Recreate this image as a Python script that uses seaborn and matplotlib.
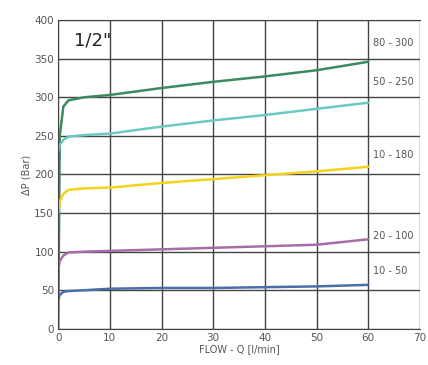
import numpy as np
import pandas as pd
import matplotlib
matplotlib.use("Agg")
import matplotlib.pyplot as plt
import seaborn as sns

flow = [0, 0.3, 1, 2, 5, 10, 20, 30, 40, 50, 60]
dp_80_300 = [0, 250, 288, 296, 300, 303, 312, 320, 327, 335, 346]
dp_50_250 = [230, 238, 245, 249, 251, 253, 262, 270, 277, 285, 293]
dp_10_180 = [150, 165, 175, 180, 182, 183, 189, 194, 199, 204, 210]
dp_20_100 = [75, 88, 95, 99, 100, 101, 103, 105, 107, 109, 116]
dp_10_50 = [38, 44, 48, 49, 50, 52, 53, 53, 54, 55, 57]

ranges = ["80 - 300", "50 - 250", "10 - 180", "20 - 100", "10 - 50"]
label_y = [370, 320, 225, 120, 75]
colors = ["#3d8a5f", "#6cc9c2", "#f3d21c", "#a66ea6", "#4a6ea8"]

series = [dp_80_300, dp_50_250, dp_10_180, dp_20_100, dp_10_50]
df = pd.concat([pd.DataFrame({"flow": flow, "dp": s, "range": r})
                for s, r in zip(series, ranges)])

sns.set_style("white")
fig = plt.figure(figsize=(4.28, 3.65), dpi=100)
ax = fig.add_axes([0.136, 0.099, 0.845, 0.846])

sns.lineplot(data=df, x="flow", y="dp", hue="range", palette=colors,
             hue_order=ranges, linewidth=1.8, legend=False, ax=ax, sort=False)

for r, y in zip(ranges, label_y):
    ax.text(61, y, r, fontsize=7, color="#555555", va="center", ha="left")

ax.text(3, 374, '1/2"', fontsize=13, color="#222222", va="center")

ax.set_xlim(0, 70)
ax.set_ylim(0, 400)
ax.set_xticks(range(0, 71, 10))
ax.set_yticks(range(0, 401, 50))
ax.grid(True, color="#444444", linewidth=1)
ax.tick_params(length=0, labelsize=7.5, labelcolor="#555555", pad=3)
for s in ax.spines.values():
    s.set_color("#444444")
ax.spines["right"].set_visible(False)
ax.set_xlabel("FLOW - Q [l/min]", fontsize=7, color="#555555", labelpad=1)
ax.set_ylabel("ΔP (Bar)", fontsize=7, color="#555555", labelpad=2)

fig.savefig("out.png", dpi=100)
